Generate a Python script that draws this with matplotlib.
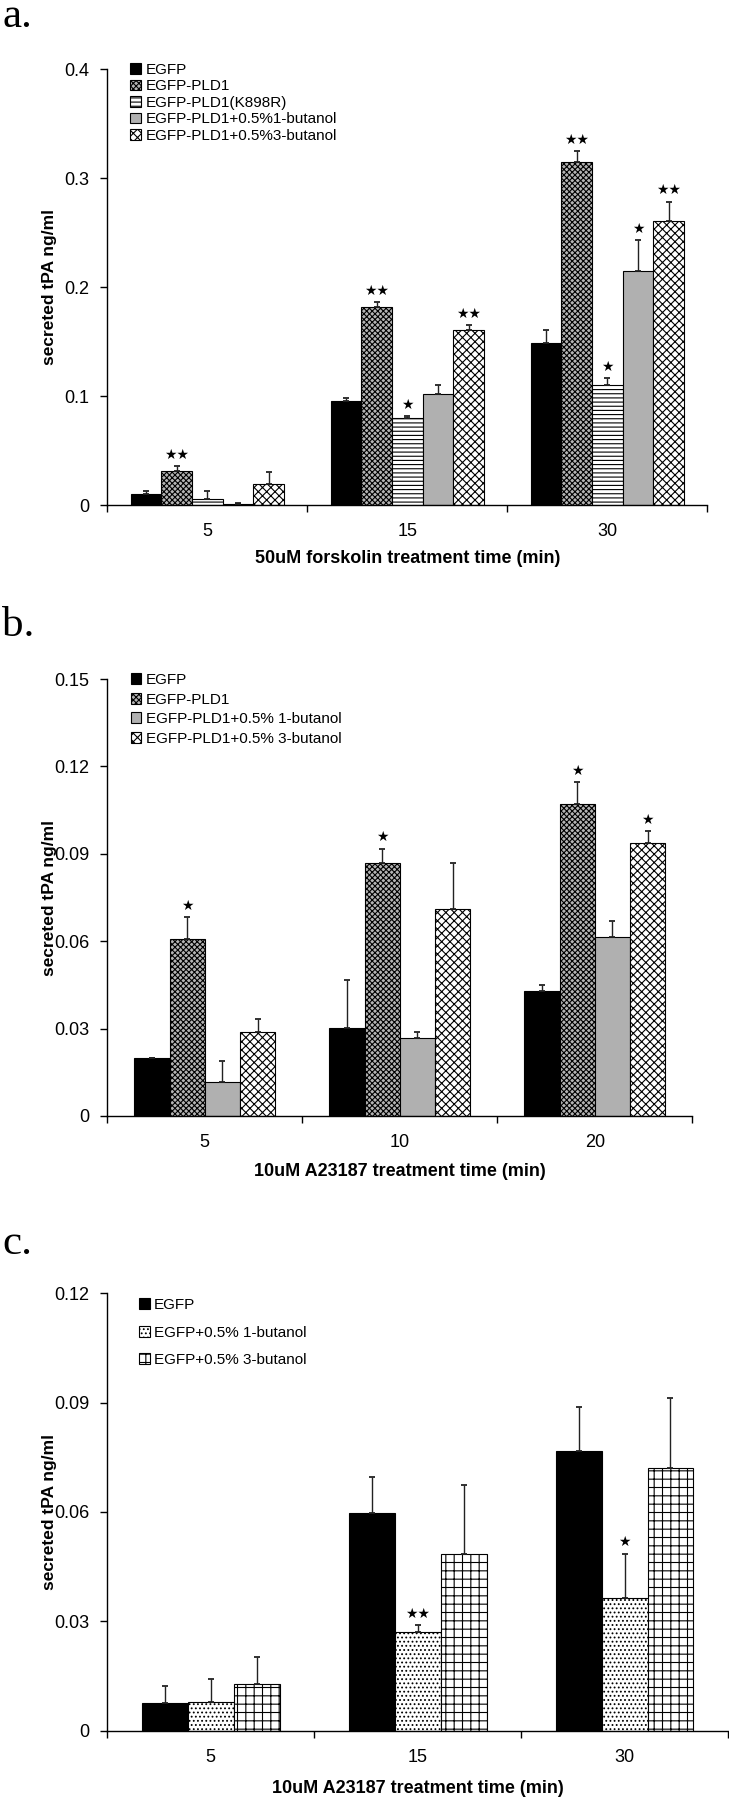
import numpy as np
import matplotlib
matplotlib.use('Agg')
import matplotlib.pyplot as plt
from matplotlib.patches import Patch

plt.rcParams['font.family'] = ['Liberation Sans', 'DejaVu Sans']
plt.rcParams['hatch.linewidth'] = 0.8

# ---- panel a : forskolin ----
a_times = ['5', '15', '30']
a_names = ['EGFP', 'EGFP-PLD1', 'EGFP-PLD1(K898R)',
           'EGFP-PLD1+0.5%1-butanol', 'EGFP-PLD1+0.5%3-butanol']
a_egfp = [0.010, 0.096, 0.149]
a_egfp_err = [0.003, 0.0025, 0.012]
a_pld1 = [0.031, 0.182, 0.315]
a_pld1_err = [0.0047, 0.0042, 0.0094]
a_k898r = [0.006, 0.080, 0.110]
a_k898r_err = [0.007, 0.002, 0.007]
a_but1 = [0.0015, 0.102, 0.2144]
a_but1_err = [0.0005, 0.0087, 0.0286]
a_but3 = [0.0196, 0.1604, 0.261]
a_but3_err = [0.011, 0.005, 0.0175]
a_stars = [['', '', ''], ['★★', '★★', '★★'], ['', '★', '★'],
           ['', '', '★'], ['', '★★', '★★']]
a_yticks = [0, 0.1, 0.2, 0.3, 0.4]
a_yticklabels = ['0', '0.1', '0.2', '0.3', '0.4']

# ---- panel b : A23187 ----
b_times = ['5', '10', '20']
b_names = ['EGFP', 'EGFP-PLD1', 'EGFP-PLD1+0.5% 1-butanol', 'EGFP-PLD1+0.5% 3-butanol']
b_egfp = [0.0199, 0.0303, 0.0429]
b_egfp_err = [0.0, 0.0165, 0.002]
b_pld1 = [0.0607, 0.0868, 0.1071]
b_pld1_err = [0.0076, 0.005, 0.0076]
b_but1 = [0.0118, 0.0269, 0.0613]
b_but1_err = [0.0072, 0.0021, 0.0057]
b_but3 = [0.029, 0.0709, 0.0938]
b_but3_err = [0.0042, 0.0161, 0.0039]
b_stars = [['', '', ''], ['★', '★', '★'], ['', '', ''], ['', '', '★']]
b_yticks = [0, 0.03, 0.06, 0.09, 0.12, 0.15]
b_yticklabels = ['0', '0.03', '0.06', '0.09', '0.12', '0.15']

# ---- panel c : A23187, EGFP only ----
c_times = ['5', '15', '30']
c_names = ['EGFP', 'EGFP+0.5% 1-butanol', 'EGFP+0.5% 3-butanol']
c_egfp = [0.0075, 0.0598, 0.0767]
c_egfp_err = [0.0048, 0.0099, 0.012]
c_but1 = [0.0078, 0.027, 0.0363]
c_but1_err = [0.0063, 0.0019, 0.0123]
c_but3 = [0.0128, 0.0484, 0.0722]
c_but3_err = [0.0074, 0.0189, 0.0191]
c_stars = [['', '', ''], ['', '★★', '★'], ['', '', '']]
c_yticks = [0, 0.03, 0.06, 0.09, 0.12]
c_yticklabels = ['0', '0.03', '0.06', '0.09', '0.12']

W, H = 729, 1800
fig = plt.figure(figsize=(W / 100, H / 100), dpi=100)


def px_box(left, top, right, bottom):
    return [left / W, 1 - bottom / H, (right - left) / W, (bottom - top) / H]


def draw_panel(box, letter, letter_y, times, names, vals, errs, stars, styles,
               yticks, yticklabels, xlabel, xlabel_gap, barw, leg_anchor, leg_space):
    ax = fig.add_axes(px_box(*box))
    n = len(vals)
    centers = np.arange(len(times)) + 0.5
    handles = []
    for i in range(n):
        x = centers + (i - (n - 1) / 2) * barw
        fc, hatch = styles[i]
        ax.bar(x, vals[i], width=barw, color=fc, edgecolor='black', hatch=hatch,
               linewidth=0.8, zorder=2)
        ax.errorbar(x, vals[i], yerr=[np.zeros(len(times)), errs[i]], fmt='none',
                    ecolor='#222222', elinewidth=1, capsize=2.5, capthick=1.3, zorder=3)
        for j in range(len(times)):
            if stars[i][j]:
                ax.annotate(stars[i][j], (x[j], vals[i][j] + errs[i][j]),
                            xytext=(0, 3), textcoords='offset points',
                            ha='center', va='bottom', fontsize=10,
                            family=['DejaVu Sans'])
        handles.append(Patch(facecolor=fc, edgecolor='black', hatch=hatch,
                             linewidth=0.8, label=names[i]))
    ax.set_xlim(0, len(times))
    ax.set_ylim(0, yticks[-1])
    ax.set_yticks(yticks)
    ax.set_yticklabels(yticklabels, fontsize=13)
    ax.set_xticks(centers)
    ax.set_xticklabels(times, fontsize=13)
    ax.set_xticks(np.arange(len(times) + 1), minor=True)
    ax.tick_params(axis='x', which='major', length=0, pad=13)
    ax.tick_params(axis='x', which='minor', length=5, width=1, direction='out')
    ax.tick_params(axis='y', length=5, width=1, pad=8)
    for s in ['top', 'right']:
        ax.spines[s].set_visible(False)
    for s in ['left', 'bottom']:
        ax.spines[s].set_linewidth(1)
    left, top, right, bottom = box
    fig.text((left + right) / 2 / W, 1 - (bottom + xlabel_gap) / H, xlabel,
             ha='center', va='center', fontsize=13, fontweight='bold')
    fig.text(50 / W, 1 - (top + bottom) / 2 / H, 'secreted tPA ng/ml', rotation=90,
             ha='center', va='center', fontsize=12.5, fontweight='bold')
    fig.text(2 / W, 1 - letter_y / H, letter, ha='left', va='baseline',
             fontsize=31, family=['Liberation Serif'])
    ax.legend(handles=handles, loc='upper left', bbox_to_anchor=leg_anchor,
              frameon=False, fontsize=11, handlelength=0.7, handleheight=0.7,
              handletextpad=0.3, labelspacing=leg_space, borderpad=0,
              borderaxespad=0)
    return ax


styles_a = [('black', ''), ('#b4b4b4', 'xxxxxx'), ('white', '----'),
            ('#b0b0b0', ''), ('white', 'xxxx')]
draw_panel((107.3, 69, 707.3, 505.3), 'a.', 27, a_times, a_names,
           [a_egfp, a_pld1, a_k898r, a_but1, a_but3],
           [a_egfp_err, a_pld1_err, a_k898r_err, a_but1_err, a_but3_err],
           a_stars, styles_a, a_yticks, a_yticklabels,
           '50uM forskolin treatment time (min)', 53, 0.1536, (0.038, 1.014), 0.16)

styles_b = [('black', ''), ('#b4b4b4', 'xxxxxx'), ('#b0b0b0', ''), ('white', 'xxxx')]
draw_panel((107.3, 679, 692.3, 1116), 'b.', 636, b_times, b_names,
           [b_egfp, b_pld1, b_but1, b_but3],
           [b_egfp_err, b_pld1_err, b_but1_err, b_but3_err],
           b_stars, styles_b, b_yticks, b_yticklabels,
           '10uM A23187 treatment time (min)', 55, 0.181, (0.04, 1.014), 0.37)

styles_c = [('black', ''), ('white', '....'), ('white', '++')]
draw_panel((107.3, 1293.3, 728, 1730.7), 'c.', 1254, c_times, c_names,
           [c_egfp, c_but1, c_but3],
           [c_egfp_err, c_but1_err, c_but3_err],
           c_stars, styles_c, c_yticks, c_yticklabels,
           '10uM A23187 treatment time (min)', 58, 0.222, (0.051, 0.989), 0.88)

fig.savefig('out.png', dpi=100)
